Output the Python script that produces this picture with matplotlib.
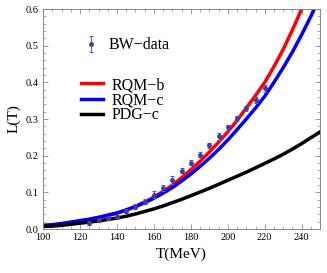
import matplotlib.pyplot as plt
from matplotlib.ticker import MultipleLocator

# BW data points
T_data = [125, 130, 135, 140, 145, 150, 155, 160, 165, 170,
          175, 180, 185, 190, 195, 200, 205, 210, 215, 220]
L_data = [0.017, 0.025, 0.029, 0.034, 0.049, 0.061, 0.075, 0.094, 0.111, 0.134,
          0.159, 0.181, 0.203, 0.228, 0.253, 0.277, 0.302, 0.329, 0.353, 0.384]
L_err = [0.006, 0.005, 0.005, 0.005, 0.006, 0.006, 0.007, 0.010, 0.008, 0.010,
         0.007, 0.007, 0.007, 0.007, 0.009, 0.007, 0.007, 0.007, 0.008, 0.010]

# model curves
T_curve = [100, 105, 110, 115, 120, 125, 130, 135, 140, 145, 150, 155, 160, 165,
           170, 175, 180, 185, 190, 195, 200, 205, 210, 215, 220, 225, 230, 235,
           240, 245, 250]
L_rqm_b = [0.009, 0.011, 0.014, 0.018, 0.022, 0.026, 0.031, 0.037, 0.043, 0.052,
           0.062, 0.074, 0.087, 0.103, 0.120, 0.140, 0.162, 0.185, 0.210, 0.237,
           0.265, 0.296, 0.330, 0.364, 0.400, 0.443, 0.490, 0.543, 0.600, 0.660,
           0.725]
L_rqm_c = [0.010, 0.012, 0.015, 0.019, 0.023, 0.027, 0.032, 0.038, 0.044, 0.052,
           0.061, 0.072, 0.084, 0.098, 0.113, 0.131, 0.150, 0.171, 0.193, 0.217,
           0.243, 0.271, 0.300, 0.330, 0.362, 0.400, 0.440, 0.483, 0.530, 0.580,
           0.635]
L_pdg_c = [0.007, 0.008, 0.010, 0.013, 0.016, 0.019, 0.022, 0.026, 0.030, 0.035,
           0.041, 0.048, 0.055, 0.063, 0.072, 0.081, 0.091, 0.101, 0.111, 0.122,
           0.133, 0.144, 0.155, 0.167, 0.179, 0.191, 0.204, 0.218, 0.233, 0.249,
           0.265]

plt.rcParams['font.family'] = ['Liberation Serif', 'DejaVu Serif']

fig = plt.figure(figsize=(3.27, 2.73), dpi=100)
ax = fig.add_axes([0.132, 0.161, 0.847, 0.806])

l1, = ax.plot(T_curve, L_rqm_b, color='#ff0000', lw=2.5, label='RQM\u2212b')
l2, = ax.plot(T_curve, L_rqm_c, color='#0000ff', lw=2.5, label='RQM\u2212c')
l3, = ax.plot(T_curve, L_pdg_c, color='black', lw=2.5, label='PDG\u2212c')
eb = ax.errorbar(T_data, L_data, yerr=L_err, fmt='o', ms=2.5, color='#3b3bb0',
                 ecolor='#5a5ab8', elinewidth=0.8, capsize=1.5, capthick=0.8,
                 label='BW\u2212data', zorder=5)

ax.set_xlim(100, 250)
ax.set_ylim(0, 0.6)
ax.xaxis.set_major_locator(MultipleLocator(20))
ax.xaxis.set_minor_locator(MultipleLocator(5))
ax.yaxis.set_major_locator(MultipleLocator(0.1))
ax.yaxis.set_minor_locator(MultipleLocator(0.02))
ax.yaxis.set_major_formatter(plt.FuncFormatter(lambda v, p: '%.1f' % v))
ax.tick_params(which='both', direction='in', top=True, right=True,
               color='#888888', labelsize=7.5, pad=3)
ax.tick_params(which='major', length=3.5, width=0.6)
ax.tick_params(which='minor', length=2, width=0.5)
for s in ax.spines.values():
    s.set_color('#888888')
    s.set_linewidth(0.7)

ax.set_xlabel('T(MeV)', fontsize=11, labelpad=4)
ax.set_ylabel('L(T)', fontsize=11, labelpad=4)

leg1 = ax.legend(handles=[eb], loc='upper left', bbox_to_anchor=(0.12, 0.9),
                 frameon=False, fontsize=11.5, handlelength=1.0, handletextpad=0.6,
                 borderaxespad=0)
ax.add_artist(leg1)
ax.legend(handles=[l1, l2, l3], loc='upper left', bbox_to_anchor=(0.115, 0.72),
          frameon=False, fontsize=11.5, handlelength=1.35, handletextpad=0.55,
          labelspacing=-0.05, borderaxespad=0)

fig.savefig('out.png', dpi=100)
